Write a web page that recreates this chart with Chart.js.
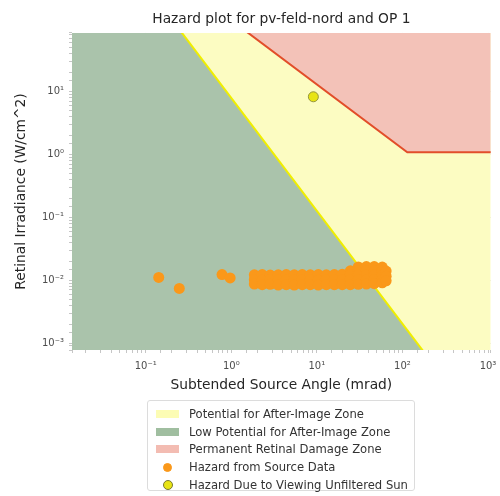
<!DOCTYPE html>
<html lang="en">
<head>
<meta charset="UTF-8">
<title>Hazard plot</title>
<script src="https://cdn.jsdelivr.net/npm/chart.js"></script>
<style>
    body { margin: 0; background: #fff; font-family: 'DejaVu Sans', sans-serif; }
    #wrap { position: relative; width: 500px; height: 496px; }
    #legend {
        position: absolute; left: 147px; top: 400px; width: 268px; height: 91px;
        border: 1px solid #dcdcdc; border-radius: 3px; box-sizing: border-box;
        padding-top: 4px; font-size: 11.6px; color: #333;
    }
    .row { height: 17.8px; display: flex; align-items: center; white-space: nowrap; }
    .sw { width: 23px; height: 8px; margin-left: 8px; margin-right: 10px; flex: none; }
    .mk { width: 23px; margin-left: 8px; margin-right: 10px; display: flex; justify-content: center; flex: none; }
    .mk span { display: block; border-radius: 50%; }
</style>
</head>
<body>
<div id="wrap">
    <canvas id="hazardChart" width="500" height="496"></canvas>
    <div id="legend"></div>
</div>
<script>
    // zone boundaries (mrad, W/cm^2)
    const afterImageAngle = [0.01, 0.166, 535, 2000];
    const afterImageIrr = [200, 200, 0.0001, 0.0001];
    const damageAngle = [0.69, 114, 2000];
    const damageIrr = [200, 1.09, 1.09];

    // hazard points from source data
    const sourceAngle = [
        0.142, 0.247, 0.78, 0.97,
        1.86, 1.86, 1.86, 2.30, 2.30, 2.30, 2.85, 2.85, 2.85, 3.54, 3.54, 3.54,
        4.39, 4.39, 4.39, 5.44, 5.44, 5.44, 6.75, 6.75, 6.75, 8.38, 8.38, 8.38,
        10.4, 10.4, 10.4, 12.9, 12.9, 12.9, 16.0, 16.0, 16.0, 19.8, 19.8, 19.8,
        24.6, 24.6, 24.6, 24.6, 30.5, 30.5, 30.5, 30.5, 30.5, 37.9, 37.9, 37.9, 37.9, 37.9,
        46.8, 46.8, 46.8, 46.8, 46.8, 58.1, 58.1, 58.1, 58.1, 58.1, 64.5, 64.5, 64.5
    ];
    const sourceIrr = [
        0.0111, 0.0074, 0.0123, 0.0109,
        0.0122, 0.0102, 0.0087, 0.0123, 0.0101, 0.0085, 0.0121, 0.0103, 0.0086, 0.0122, 0.0102, 0.0084,
        0.0123, 0.0101, 0.0085, 0.0122, 0.0102, 0.0084, 0.0123, 0.0103, 0.0085, 0.0122, 0.0102, 0.0085,
        0.0123, 0.0101, 0.0084, 0.0122, 0.0102, 0.0085, 0.0123, 0.0102, 0.0085, 0.0124, 0.0102, 0.0085,
        0.0141, 0.0123, 0.0102, 0.0085, 0.0163, 0.0141, 0.0122, 0.0102, 0.0086, 0.0165, 0.0141, 0.0121, 0.0102, 0.0087,
        0.0165, 0.0141, 0.0121, 0.0103, 0.0088, 0.0162, 0.0140, 0.0120, 0.0104, 0.0091, 0.0140, 0.0116, 0.0098
    ];

    // hazard due to viewing the unfiltered sun
    const sunAngle = [9.1];
    const sunIrr = [8.3];

    const xMin = 0.01377, xMax = 1075;
    const yMin = 0.000776, yMax = 86;

    const labels = [
        'Potential for After-Image Zone',
        'Low Potential for After-Image Zone',
        'Permanent Retinal Damage Zone',
        'Hazard from Source Data',
        'Hazard Due to Viewing Unfiltered Sun'
    ];

    const pts = (xs, ys) => xs.map((x, i) => ({ x: x, y: ys[i] }));

    const sup = { '-': '\u207B', '0': '\u2070', '1': '\u00B9', '2': '\u00B2', '3': '\u00B3' };
    function decade(v) {
        const e = Math.round(Math.log10(v));
        if (Math.abs(Math.log10(v) - e) > 1e-6) return '';
        return '10' + String(e).split('').map(c => sup[c]).join('');
    }
    function isDecade(v) {
        return decade(v) !== '';
    }

    const gridColor = c => (c.tick && isDecade(c.tick.value)) ? 'rgba(205,205,192,0.6)' : 'rgba(0,0,0,0)';

    const zoneYellow = 'rgb(252,252,194)';
    const zoneGreen = 'rgb(170,195,171)';
    const zonePink = 'rgb(243,194,184)';
    const orange = 'rgb(250,152,26)';

    const ctx = document.getElementById('hazardChart').getContext('2d');
    const chart = new Chart(ctx, {
        type: 'scatter',
        data: {
            datasets: [
                {
                    label: labels[4],
                    data: pts(sunAngle, sunIrr),
                    pointRadius: 5,
                    backgroundColor: 'rgb(232,228,20)',
                    borderColor: 'rgb(150,150,60)',
                    borderWidth: 1,
                    order: 0
                },
                {
                    label: labels[3],
                    data: pts(sourceAngle, sourceIrr),
                    pointRadius: 5.5,
                    backgroundColor: orange,
                    borderWidth: 0,
                    order: 1
                },
                {
                    label: labels[2],
                    data: pts(damageAngle, damageIrr),
                    showLine: true,
                    pointRadius: 0,
                    borderColor: 'rgb(226,78,42)',
                    borderWidth: 2,
                    backgroundColor: zonePink,
                    fill: 'end',
                    order: 2
                },
                {
                    label: labels[0],
                    data: pts(afterImageAngle, afterImageIrr),
                    showLine: true,
                    pointRadius: 0,
                    borderColor: 'rgb(240,238,0)',
                    borderWidth: 2,
                    backgroundColor: zoneYellow,
                    fill: 'end',
                    order: 3
                },
                {
                    label: labels[1],
                    data: pts(afterImageAngle, afterImageIrr),
                    showLine: true,
                    pointRadius: 0,
                    borderWidth: 0,
                    backgroundColor: zoneGreen,
                    fill: 'start',
                    order: 4
                }
            ]
        },
        options: {
            responsive: false,
            animation: false,
            devicePixelRatio: 1,
            layout: { padding: { left: 0, right: 9.3, top: 0, bottom: 101 } },
            plugins: {
                legend: { display: false },
                tooltip: { enabled: false },
                title: {
                    display: true,
                    fullSize: false,
                    text: 'Hazard plot for pv-feld-nord and OP 1',
                    color: '#262626',
                    font: { family: 'DejaVu Sans', size: 13.8, weight: 'normal' },
                    padding: { top: 11, bottom: 5.4 }
                }
            },
            scales: {
                x: {
                    type: 'logarithmic',
                    min: xMin,
                    max: xMax,
                    z: 1,
                    border: { display: false },
                    grid: { color: gridColor, tickColor: 'rgba(160,160,160,0.6)', tickLength: 3 },
                    ticks: {
                        autoSkip: false,
                        maxRotation: 0,
                        padding: 7,
                        color: '#4d4d4d',
                        font: { family: 'DejaVu Sans', size: 10 },
                        callback: v => decade(v)
                    },
                    title: {
                        display: true,
                        text: 'Subtended Source Angle (mrad)',
                        color: '#262626',
                        font: { family: 'DejaVu Sans', size: 13.8 },
                        padding: { top: 0, bottom: 1.7 }
                    },
                    afterFit: s => { s.height = 45; }
                },
                y: {
                    type: 'logarithmic',
                    min: yMin,
                    max: yMax,
                    z: 1,
                    border: { display: false },
                    grid: { color: gridColor, tickColor: 'rgba(160,160,160,0.6)', tickLength: 3 },
                    ticks: {
                        autoSkip: false,
                        padding: 5,
                        color: '#4d4d4d',
                        font: { family: 'DejaVu Sans', size: 10 },
                        callback: v => decade(v)
                    },
                    title: {
                        display: true,
                        text: 'Retinal Irradiance (W/cm^2)',
                        color: '#262626',
                        font: { family: 'DejaVu Sans', size: 13.8 },
                        padding: { top: 13.5, bottom: 0 }
                    },
                    afterFit: s => { s.width = 72; }
                }
            }
        }
    });

    // legend in the matplotlib layout: one entry per row
    const legendRows = [
        { text: labels[0], swatch: 'rgb(252,252,180)' },
        { text: labels[1], swatch: 'rgb(160,190,160)' },
        { text: labels[2], swatch: 'rgb(243,188,178)' },
        { text: labels[3], marker: orange, edge: orange, size: 7 },
        { text: labels[4], marker: 'rgb(232,228,20)', edge: 'rgb(120,120,50)', size: 8 }
    ];
    const legend = document.getElementById('legend');
    legendRows.forEach(r => {
        const row = document.createElement('div');
        row.className = 'row';
        if (r.swatch) {
            row.innerHTML = '<div class="sw" style="background:' + r.swatch + '"></div>';
        } else {
            row.innerHTML = '<div class="mk"><span style="width:' + r.size + 'px;height:' + r.size +
                'px;background:' + r.marker + ';border:1px solid ' + r.edge + '"></span></div>';
        }
        const t = document.createElement('span');
        t.textContent = r.text;
        row.appendChild(t);
        legend.appendChild(row);
    });
</script>
</body>
</html>
